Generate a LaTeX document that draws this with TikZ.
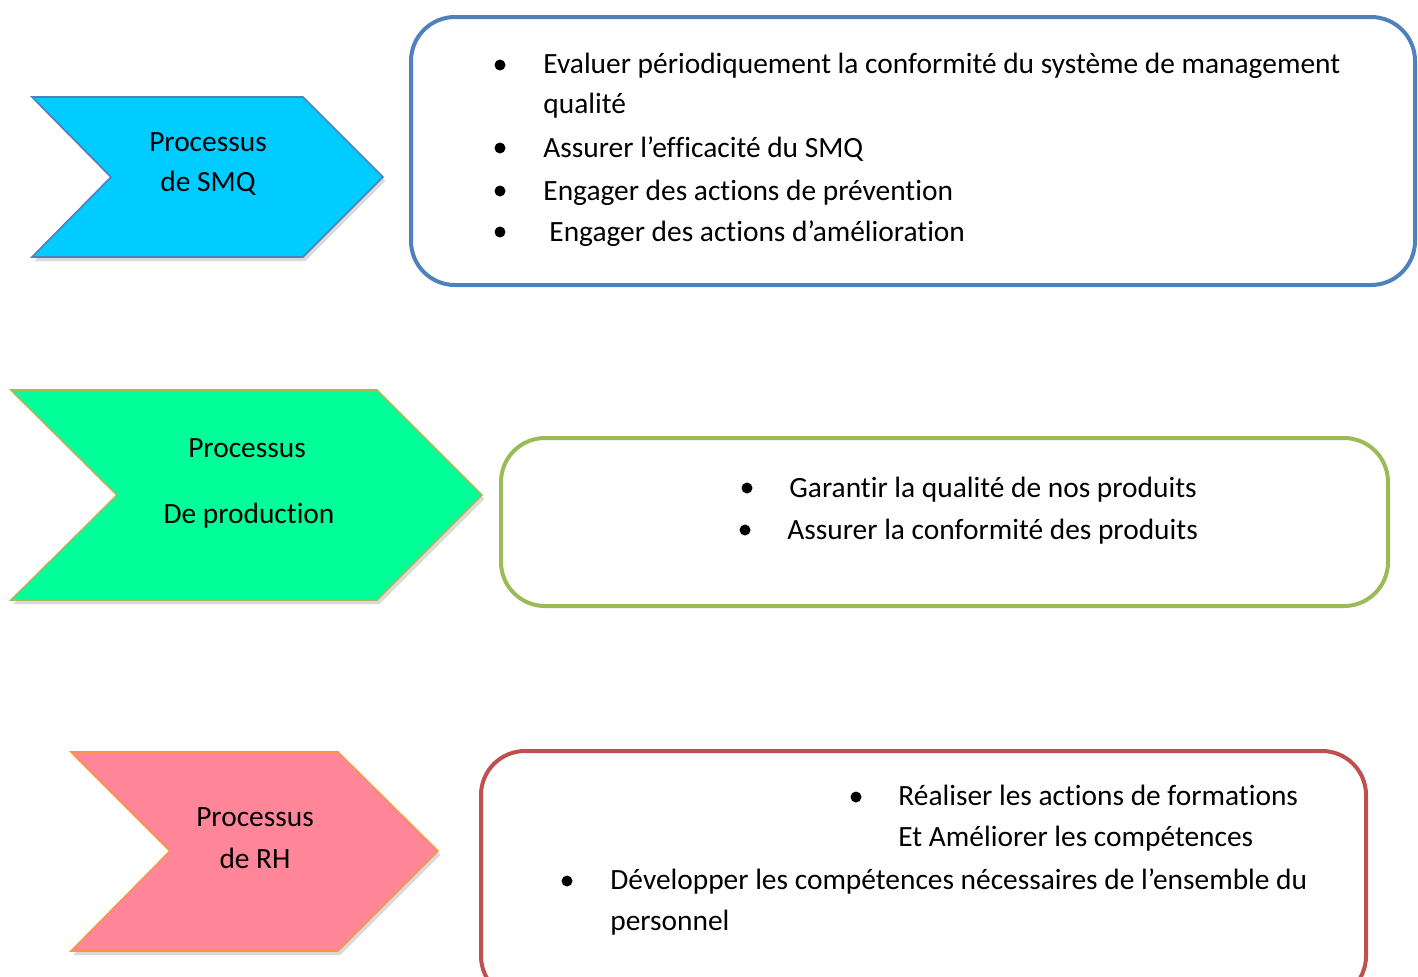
\documentclass[tikz,border=0pt]{standalone}
\usepackage{fontspec}
\setmainfont[Ligatures=NoCommon,Contextuals=NoAlternate]{Carlito}
\usetikzlibrary{shadows}

\definecolor{smqfill}{HTML}{00CCFF}
\definecolor{smqline}{HTML}{4F81BD}
\definecolor{prodfill}{HTML}{00FF99}
\definecolor{prodline}{HTML}{A8B860}
\definecolor{rhfill}{HTML}{FF8599}
\definecolor{rhline}{HTML}{F79646}
\definecolor{boxgreen}{HTML}{9BBB59}
\definecolor{boxred}{HTML}{C0504D}

\newcommand*{\itemfont}{\fontsize{14.7}{20.5}\selectfont}

\begin{document}
\begin{tikzpicture}
[
	x=0.5pt, y=-0.5pt,
	chevron/.style={line width=0.8pt,line join=miter,
		drop shadow={shadow xshift=1.2pt,shadow yshift=-2pt,opacity=0.25,fill=black!60}},
	goalbox/.style={line width=2pt,rounded corners=22pt},
	label/.style={font=\itemfont,inner sep=0pt,align=center},
	item/.style={font=\itemfont,inner sep=0pt,anchor=base west},
	dot/.style={circle,fill=black,inner sep=0pt,minimum size=5.5pt}
]
	\useasboundingbox (0,0) rectangle (1418,976);

	% chevrons
	\filldraw[chevron,fill=smqfill,draw=smqline]
	  (32,97) -- (303,97) -- (383,177) -- (303,257) -- (32,257) -- (111,177) -- cycle;
	\filldraw[chevron,fill=prodfill,draw=prodline]
	  (11,390) -- (377,390) -- (482,495) -- (377,600) -- (11,600) -- (117,495) -- cycle;
	\filldraw[chevron,fill=rhfill,draw=rhline]
	  (71,752) -- (338,752) -- (438,851) -- (338,951) -- (71,951) -- (170,851) -- cycle;

	\node[label] (smq1) at (208,142) {Processus};
	\node[label] (smq2) at (208,183) {de SMQ};
	\node[label] (prod1) at (247,448) {Processus};
	\node[label] (prod2) at (249,516) {De production};
	\node[label] (rh1) at (255,817) {Processus};
	\node[label] (rh2) at (255,858) {de RH};

	% boxes
	\draw[goalbox,draw=smqline] (411,17) rectangle (1415,285);
	\draw[goalbox,draw=boxgreen] (501,438) rectangle (1388,606);
	\draw[goalbox,draw=boxred] (481,751) rectangle (1366,1000);

	% SMQ goals
	\node[dot] (d1) at (500,65) {};
	\node[dot] (d2) at (500,148) {};
	\node[dot] (d3) at (500,191) {};
	\node[dot] (d4) at (500,232) {};
	\node[item] (t1) at (543,73) {Evaluer périodiquement la conformité du système de management};
	\node[item] (t1b) at (543,113) {qualité};
	\node[item] (t2) at (543,157) {Assurer l’efficacité du SMQ};
	\node[item] (t3) at (543,200) {Engager des actions de prévention};
	\node[item] (t4) at (549,241) {Engager des actions d’amélioration};

	% production goals
	\node[dot] (d5) at (747,488) {};
	\node[dot] (d6) at (745,530) {};
	\node[item] (t5) at (789,497) {Garantir la qualité de nos produits};
	\node[item] (t6) at (787,539) {Assurer la conformité des produits};

	% RH goals
	\node[dot] (d7) at (856,797) {};
	\node[dot] (d8) at (567,881) {};
	\node[item] (t7) at (898,805) {Réaliser les actions de formations};
	\node[item] (t7b) at (898,846) {Et Améliorer les compétences};
	\node[item] (t8) at (610,889) {Développer les compétences nécessaires de l’ensemble du};
	\node[item] (t8b) at (610,930) {personnel};

\end{tikzpicture}
\end{document}
